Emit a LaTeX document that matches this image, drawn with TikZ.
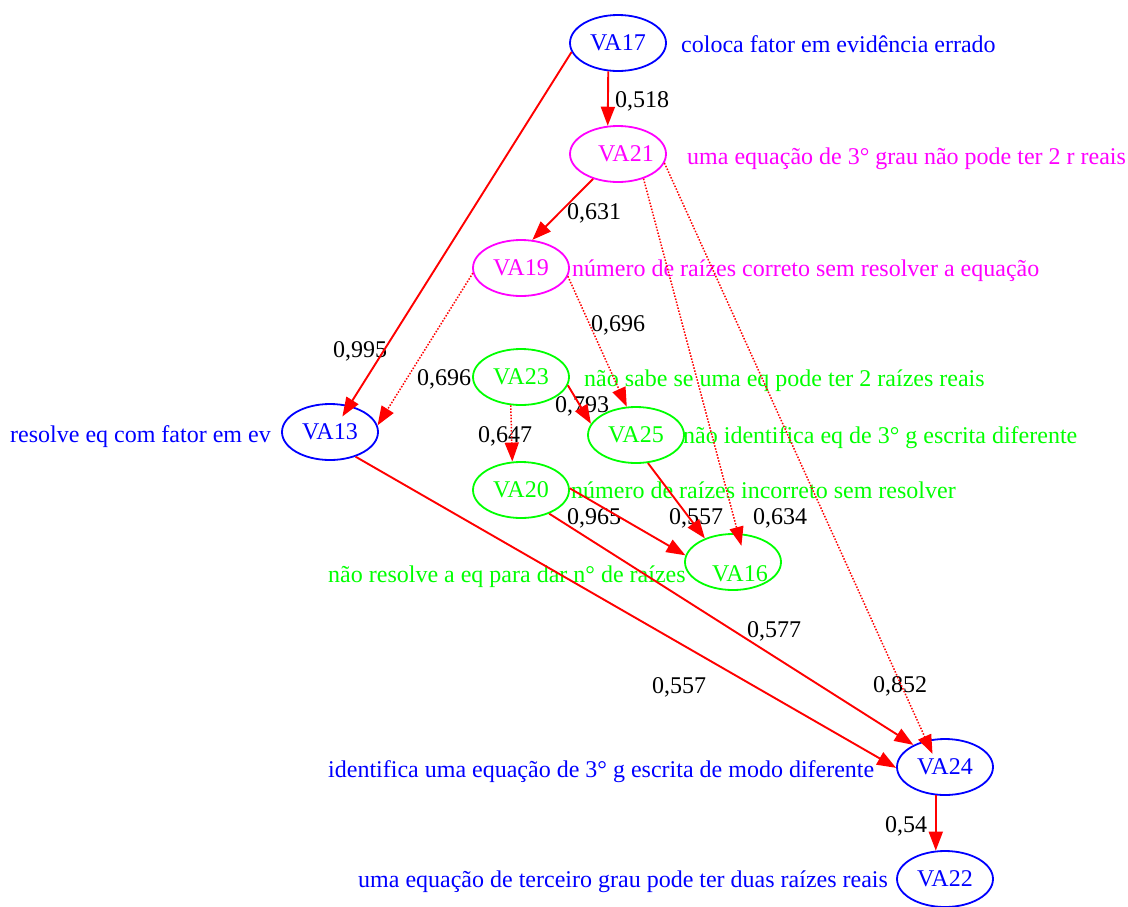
\documentclass[tikz,border=0pt]{standalone}
\usepackage{fontspec}
\setmainfont{Liberation Serif}
\usetikzlibrary{arrows.meta,shapes.geometric}
\definecolor{cblue}{RGB}{0,0,255}
\definecolor{cmag}{RGB}{255,0,255}
\definecolor{cgreen}{RGB}{0,255,0}
\definecolor{cred}{RGB}{255,0,0}
\begin{document}
\begin{tikzpicture}[x=1pt,y=-1pt,
  every node/.style={font=\fontsize{24}{28}\selectfont, inner sep=0pt},
  va/.style={ellipse, draw, line width=1.8pt, minimum width=96pt, minimum height=56pt},
  side/.style={anchor=base west},
  elab/.style={anchor=base, text=black},
  arr/.style={draw=cred, line width=1.9pt, -{Triangle[length=19pt,width=14pt]}},
  darr/.style={arr, line width=1.5pt, dash pattern=on 1.5pt off 1.6pt},
]
\useasboundingbox (0,0) rectangle (1128,906);

% nodes
\node[va, draw=cblue, text=cblue] (VA17) at (618,43) {VA17};
\node[va, draw=cmag, text=cmag] (VA21) at (618,154) {\makebox[0pt]{\hspace{16pt}VA21}};
\node[va, draw=cmag, text=cmag] (VA19) at (521,268) {VA19};
\node[va, draw=cblue, text=cblue] (VA13) at (330,432) {VA13};
\node[va, draw=cgreen, text=cgreen] (VA23) at (521,377) {VA23};
\node[va, draw=cgreen, text=cgreen] (VA25) at (636,435) {VA25};
\node[va, draw=cgreen, text=cgreen] (VA20) at (521,490) {VA20};
\node[va, draw=cgreen, text=cgreen, text height=38pt, text depth=0pt] (VA16) at (733,562) {\makebox[0pt]{\hspace{14pt}VA16}};
\node[va, draw=cblue, text=cblue] (VA24) at (945,767) {VA24};
\node[va, draw=cblue, text=cblue] (VA22) at (945,879) {VA22};

% side labels
\node[side, text=cblue] (L17) at (681,52) {coloca fator em evidência errado};
\node[side, text=cmag] (L21) at (687,164) {uma equação de 3° grau não pode ter 2 r reais};
\node[side, text=cmag] (L19) at (572,276) {número de raízes correto sem resolver a equação};
\node[side, text=cgreen] (L23) at (584,386) {não sabe se uma eq pode ter 2 raízes reais};
\node[side, text=cgreen] (L25) at (683,443) {não identifica eq de 3° g escrita diferente};
\node[side, text=cgreen] (L20) at (571,498) {número de raízes incorreto sem resolver};
\node[side, text=cgreen] (L16) at (328,582) {não resolve a eq para dar n° de raízes};
\node[side, text=cblue] (L13) at (10,442) {resolve eq com fator em ev};
\node[side, text=cblue] (L24) at (328,777) {identifica uma equação de 3° g escrita de modo diferente};
\node[side, text=cblue] (L22) at (358,887) {uma equação de terceiro grau pode ter duas raízes reais};

% edge labels
\node[elab] (e1) at (642,107) {0,518};
\node[elab] (e2) at (360,357) {0,995};
\node[elab] (e3) at (594,219) {0,631};
\node[elab] (e4) at (780,524) {0,634};
\node[elab] (e5) at (900,692) {0,852};
\node[elab] (e6) at (444,385) {0,696};
\node[elab] (e7) at (618,331) {0,696};
\node[elab] (e8) at (582,412) {0,793};
\node[elab] (e9) at (505,442) {0,647};
\node[elab] (e10) at (594,524) {0,965};
\node[elab] (e11) at (774,637) {0,577};
\node[elab] (e12) at (696,524) {0,557};
\node[elab] (e13) at (679,693) {0,557};
\node[elab] (e14) at (906,832) {0,54};

% edges
\draw[arr] (VA17.251) -- (VA21.110);
\draw[arr, shorten >=-13pt] (VA17.191) -- (VA13.54);
\draw[arr] (VA21.225) -- (VA19.68);
\draw[darr, shorten >=-13pt] (VA21.316) -- (VA16.80);
\draw[darr, shorten >=-15pt] (VA21.349) -- (VA24.125);
\draw[darr] (VA19.186) -- (VA13.8);
\draw[darr] (VA19.350) -- (VA25.108);
\draw[arr] (VA23.350) -- (VA25.166);
\draw[darr] (VA23.250) -- (VA20.107);
\draw[arr] (VA20.2) -- (VA16.172);
\draw[arr] (VA20.320) -- (VA24.145);
\draw[arr] (VA25.293) -- (VA16.140);
\draw[arr] (VA13.316) -- (VA24.181);
\draw[arr] (VA24.252) -- (VA22.108);
\end{tikzpicture}
\end{document}
